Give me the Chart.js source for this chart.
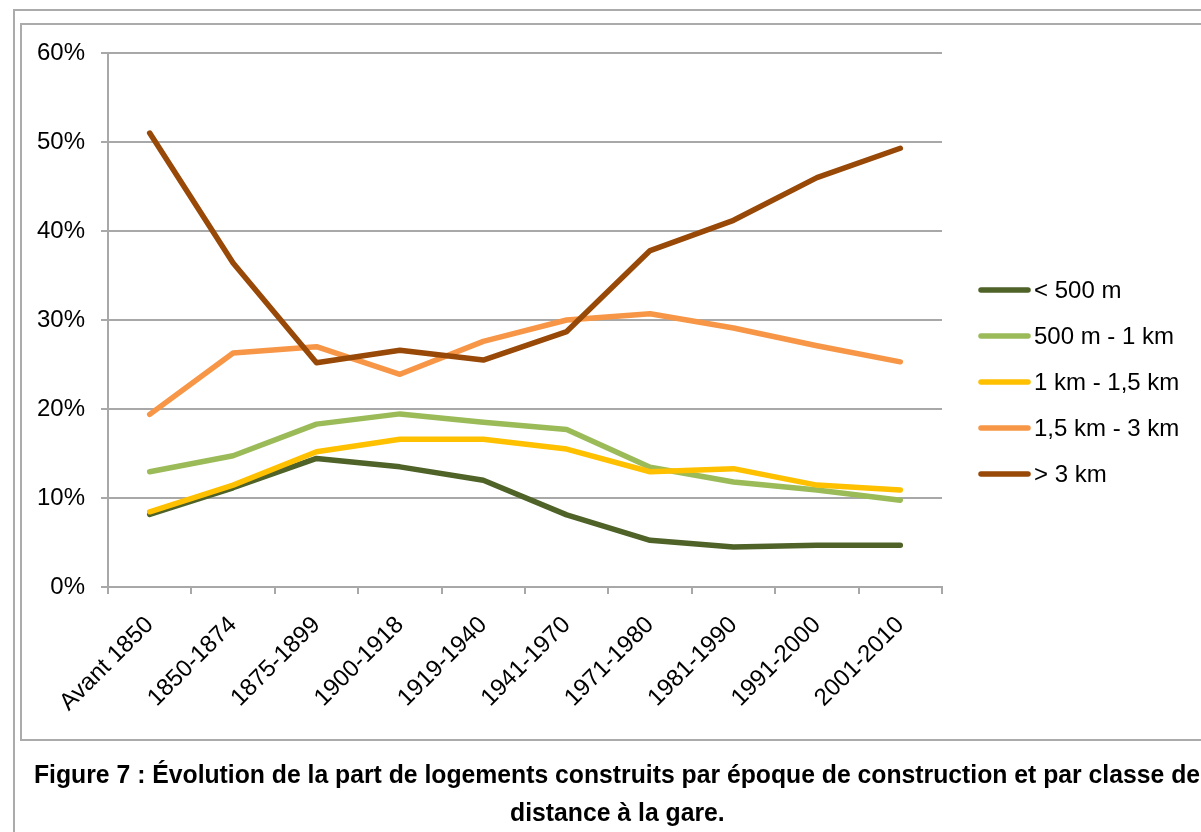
<!DOCTYPE html>
<html><head><meta charset="utf-8">
<script src="https://cdn.jsdelivr.net/npm/chart.js@4.4.1/dist/chart.umd.min.js"></script>
<style>
html,body{margin:0;padding:0;background:#fff;width:1201px;height:832px;overflow:hidden;position:relative;}
#outer{position:absolute;left:13px;top:9px;width:1400px;height:1000px;border:2px solid #ababab;}
#inner{position:absolute;left:20px;top:23px;width:1400px;height:714px;border:2px solid #ababab;}
#wrap{position:absolute;left:0;top:0;width:1201px;height:832px;}
#cap{position:absolute;left:-133px;top:755px;width:1500px;text-align:center;font-family:"Liberation Sans",Arial,sans-serif;font-weight:bold;font-size:25px;line-height:38px;color:#000;}
#cap div{white-space:nowrap;}
#cap span{display:inline-block;transform-origin:center center;}
</style></head>
<body>
<div id="outer"></div>
<div id="inner"></div>
<div id="wrap"><canvas id="c" width="1201" height="832"></canvas></div>
<div id="cap"><div><span id="l1">Figure 7 : Évolution de la part de logements construits par époque de construction et par classe de</span></div><div><span id="l2">distance à la gare.</span></div></div>
<script>
const categories = ["Avant 1850","1850-1874","1875-1899","1900-1918","1919-1940","1941-1970","1971-1980","1981-1990","1991-2000","2001-2010"];
const seriesNames = ["< 500 m","500 m - 1 km","1 km - 1,5 km","1,5 km - 3 km","> 3 km"];
const lt500m   = [8.15, 11.15, 14.45, 13.5, 12.0, 8.1, 5.25, 4.5, 4.7, 4.7];
const m500_1km = [12.95, 14.75, 18.3, 19.45, 18.5, 17.7, 13.45, 11.8, 10.9, 9.75];
const km1_15   = [8.45, 11.45, 15.2, 16.6, 16.6, 15.5, 12.95, 13.3, 11.45, 10.9];
const km15_3   = [19.4, 26.3, 27.0, 23.9, 27.6, 30.0, 30.7, 29.1, 27.1, 25.3];
const gt3km    = [51.0, 36.4, 25.2, 26.6, 25.5, 28.7, 37.8, 41.2, 46.0, 49.3];
const yTicks = [0, 10, 20, 30, 40, 50, 60];
const colors = ["#4f6228", "#9bbb59", "#ffc000", "#f79646", "#984807"];
const allSeries = [lt500m, m500_1km, km1_15, km15_3, gt3km];

const FONT = '"Liberation Sans", Arial, sans-serif';

const legendPlugin = {
  id: 'customLegend',
  afterDraw(chart) {
    const ctx = chart.ctx;
    ctx.save();
    chart.data.datasets.forEach((ds, i) => {
      const y = 290 + i * 46;
      ctx.beginPath();
      ctx.strokeStyle = ds.borderColor;
      ctx.lineWidth = 5.5;
      ctx.lineCap = 'round';
      ctx.moveTo(981, y);
      ctx.lineTo(1028, y);
      ctx.stroke();
      ctx.fillStyle = '#000';
      ctx.font = '24px ' + FONT;
      ctx.textAlign = 'left';
      ctx.textBaseline = 'middle';
      ctx.fillText(ds.label, 1034, y + 1);
    });
    ctx.restore();
  }
};

new Chart(document.getElementById('c'), {
  type: 'line',
  data: {
    labels: categories,
    datasets: allSeries.map((d, i) => ({
      label: seriesNames[i],
      data: d,
      borderColor: colors[i],
      backgroundColor: colors[i],
      borderWidth: 5.5,
      borderCapStyle: 'round',
      borderJoinStyle: 'round',
      pointRadius: 0,
      tension: 0,
      fill: false,
      order: allSeries.length - i
    }))
  },
  options: {
    responsive: false,
    animation: false,
    events: [],
    layout: { padding: { left: 20, top: 53, right: 259, bottom: 95 } },
    plugins: { legend: { display: false }, tooltip: { enabled: false } },
    scales: {
      x: {
        offset: true,
        grid: { offset: true, drawOnChartArea: false, drawTicks: true, tickLength: 7, color: '#a8a8a8', lineWidth: 2 },
        border: { color: '#a8a8a8', width: 2 },
        ticks: { minRotation: 45, maxRotation: 45, autoSkip: false, padding: 17, color: '#000', font: { family: FONT, size: 24 } },
        afterFit(s) { s.height = 150; }
      },
      y: {
        min: 0, max: 60,
        afterBuildTicks(s) { s.ticks = yTicks.map(v => ({ value: v })); },
        grid: { color: '#a8a8a8', lineWidth: 2, tickLength: 7 },
        border: { color: '#a8a8a8', width: 2 },
        ticks: { padding: 16, color: '#000', font: { family: FONT, size: 24 }, callback: v => v + '%' },
        afterFit(s) { s.width = 88; }
      }
    }
  },
  plugins: [legendPlugin]
});

// caption: narrow bold text fitted to the reference width
const l1 = document.getElementById('l1'), l2 = document.getElementById('l2');
const w = l1.getBoundingClientRect().width;
const sx = 1166 / w;
l1.style.transform = 'scaleX(' + sx + ')';
l2.style.transform = 'scaleX(' + sx + ')';
</script>
</body></html>
